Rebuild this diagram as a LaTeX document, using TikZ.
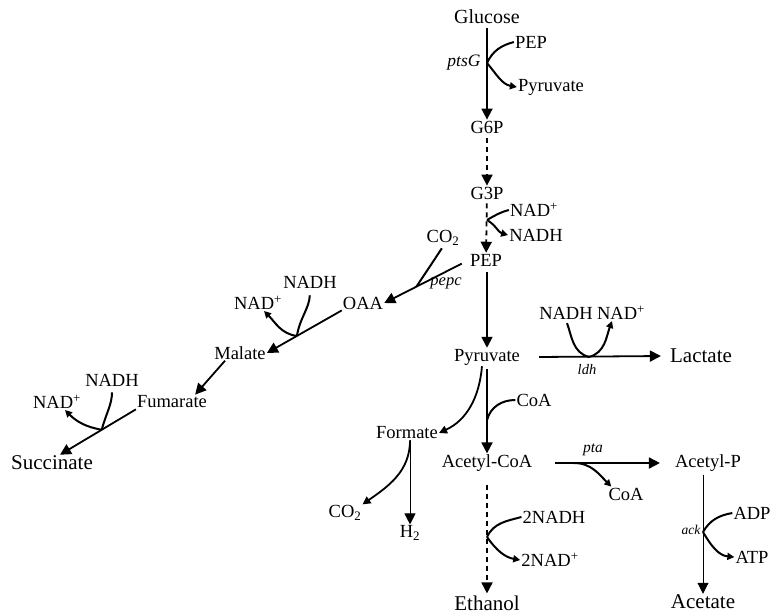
\documentclass[tikz,border=0pt]{standalone}
\usepackage{fontspec}
\setmainfont{Liberation Serif}
\usetikzlibrary{arrows.meta,calc}
\tikzset{
  met/.style={inner sep=1pt, font=\fontsize{18.5}{21}\selectfont},
  endp/.style={inner sep=1pt, font=\fontsize{21}{24}\selectfont},
  gene/.style={inner sep=1pt, font=\itshape\fontsize{17.5}{20}\selectfont},
  genesm/.style={inner sep=1pt, font=\itshape\fontsize{14.5}{16}\selectfont},
  mainarr/.style={line width=1.8pt, -{Triangle[length=11pt,width=11pt]}},
  thinarr/.style={line width=1pt, -{Triangle[length=11pt,width=11pt]}},
  dasharr/.style={mainarr, dash pattern=on 5pt off 4pt},
  cof/.style={line width=2pt},
  cofarr/.style={line width=2pt, -{Triangle[length=7pt,width=7pt]}},
}
\begin{document}
\begin{tikzpicture}[x=1pt,y=-1pt]
\useasboundingbox (0,0) rectangle (777,614);
\fill[white] (0,0) rectangle (777,614);
% nodes
\node[met, font=\fontsize{20}{22}\selectfont] (glucose) at (487,17) {Glucose};
\node[met] (pepA) at (531,42) {PEP};
\node[gene] (ptsg) at (464,63) {ptsG};
\node[met] (pyrA) at (551,87) {Pyruvate};
\node[met] (g6p) at (487,127) {G6P};
\node[met] (g3p) at (487,193) {G3P};
\node[met] (nadA) at (534,210) {NAD\textsuperscript{+}};
\node[met] (nadhA) at (536,235) {NADH};
\node[met] (pep) at (486,260) {PEP};
\node[met] (co2A) at (443,238) {CO\textsubscript{2}};
\node[gene, font=\itshape\fontsize{16.5}{18}\selectfont] (pepc) at (446,283) {pepc};
\node[met] (oaa) at (363,303) {OAA};
\node[met] (nadhB) at (310,282) {NADH};
\node[met] (nadB) at (258,303) {NAD\textsuperscript{+}};
\node[met] (malate) at (240,353) {Malate};
\node[met] (nadhC) at (112,380) {NADH};
\node[met] (nadC) at (57,402) {NAD\textsuperscript{+}};
\node[met] (fum) at (172,402) {Fumarate};
\node[endp] (succ) at (52,463) {Succinate};
\node[met] (pyr) at (487,357) {Pyruvate};
\node[endp] (lact) at (701,356) {Lactate};
\node[met] (nadhD) at (566,313) {NADH};
\node[met] (nadD) at (621,313) {NAD\textsuperscript{+}};
\node[genesm] (ldh) at (587,370) {ldh};
\node[met] (coaA) at (534,400) {CoA};
\node[met] (formate) at (407,433) {Formate};
\node[met] (accoa) at (487,463) {Acetyl-CoA};
\node[genesm, font=\itshape\fontsize{15.5}{17}\selectfont] (pta) at (593,450) {pta};
\node[met] (acp) at (708,463) {Acetyl-P};
\node[met] (coaB) at (626,494) {CoA};
\node[met] (co2B) at (345,513) {CO\textsubscript{2}};
\node[met] (htwo) at (410,533) {H\textsubscript{2}};
\node[met] (nadhE) at (554,517) {2NADH};
\node[met] (nadE) at (550,560) {2NAD\textsuperscript{+}};
\node[endp] (ethanol) at (487,603) {Ethanol};
\node[genesm, font=\itshape\fontsize{13.5}{15}\selectfont] (ack) at (691,530) {ack};
\node[met] (adp) at (752,513) {ADP};
\node[met] (atp) at (752,557) {ATP};
\node[endp] (acetate) at (703,602) {Acetate};
% branch coordinates
\coordinate (b1) at (487,63);
\coordinate (b2) at (487,220);
\coordinate (b3) at ($(pep.west)!0.62!(oaa.east)$);
\coordinate (b4) at ($(oaa.south west)!0.6!(malate.east)$);
\coordinate (b5) at ($(fum.south west)!0.45!([xshift=8pt]succ.north)$);
\coordinate (b6) at (589,357);
\coordinate (b7) at (487,420);
\coordinate (b8) at (487,537);
\coordinate (b9) at (574,463);
\coordinate (b10) at (703,532);
% main pathway
\draw[mainarr, shorten <=3pt] (glucose) -- (g6p);
\draw[dasharr, shorten <=4pt] (g6p) -- (g3p);
\draw[dasharr, shorten <=3pt] (g3p) -- (pep);
\draw[mainarr, shorten <=5pt] (pep.south -| pyr.north) -- (pyr.north);
\draw[mainarr, shorten <=8pt] (pep.west) -- (oaa.east);
\draw[mainarr] (oaa.south west) -- (malate.east);
\draw[mainarr] ([xshift=-15pt]malate.south) -- ([xshift=-13pt]fum.north east);
\draw[mainarr] (fum.south west) -- ([xshift=8pt]succ.north);
\draw[mainarr] ([xshift=18pt]pyr.east) -- ([xshift=-8pt]lact.west);
\draw[mainarr, shorten <=3pt] (pyr) -- (accoa);
\draw[mainarr, -{Triangle[length=8pt,width=8pt]}] ([xshift=-5pt]pyr.south) to[out=-95,in=25] (formate.east);
\draw[mainarr, -{Triangle[length=8pt,width=8pt]}] ([xshift=3pt]formate.south) to[out=-90,in=35] (co2B.north east);
\draw[thinarr] (formate.south -| htwo.north) -- (htwo.north);
\draw[dasharr, shorten <=12pt, shorten >=1pt] (accoa) -- (ethanol);
\draw[mainarr] ([xshift=22pt]accoa.east) -- ([xshift=-14pt]acp.west);
\draw[thinarr, shorten <=2pt] (acp.south -| acetate.north) -- (acetate.north);
% cofactors
\draw[cof] (pepA.west) to[out=195,in=65] (b1);
\draw[cofarr] (b1) to[out=-50,in=170] (pyrA.west);
\draw[cof] (nadA.west) to[out=195,in=30] (b2);
\draw[cofarr] (b2) to[out=-30,in=165] (nadhA.west);
\draw[cof, shorten <=2pt] (co2A.south) -- (b3);
\draw[cof, shorten <=6pt] (nadhB.south) to[out=-92,in=80] (b4);
\draw[cofarr] (b4) to[out=172,in=-45] ([xshift=6pt]nadB.south);
\draw[cof, shorten <=5pt] (nadhC.south) to[out=-90,in=75] (b5);
\draw[cofarr] (b5) to[out=170,in=-45] ([xshift=8pt]nadC.south);
\draw[cof, shorten <=3pt] (nadhD.south) to[out=-70,in=165] (b6);
\draw[cofarr] (b6) to[out=15,in=-110] ([xshift=-9pt]nadD.south);
\draw[cof] (coaA.west) to[out=180,in=75] (b7);
\draw[cof] (nadhE.west) to[out=195,in=65] (b8);
\draw[cofarr] (b8) to[out=-55,in=170] (nadE.west);
\draw[cofarr] (b9) to[out=0,in=135] ([xshift=4pt]coaB.north west);
\draw[cof] (adp.west) to[out=190,in=60] (b10);
\draw[cofarr] (b10) to[out=-60,in=175] (atp.west);
\end{tikzpicture}
\end{document}
